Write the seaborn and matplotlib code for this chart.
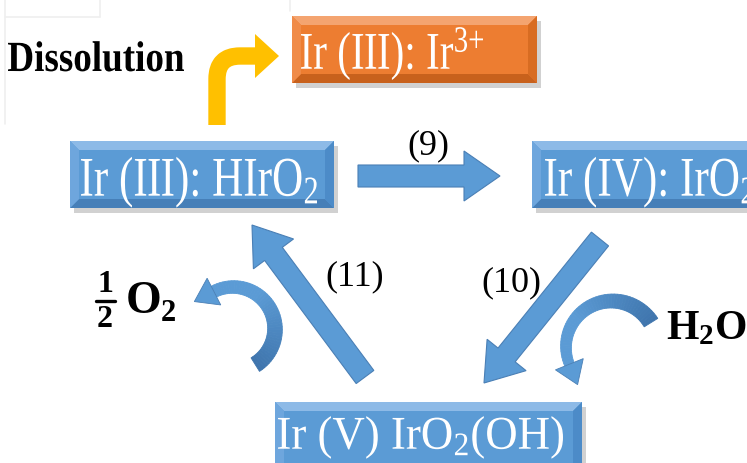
import matplotlib
matplotlib.use("Agg")
import matplotlib.pyplot as plt
import numpy as np
import seaborn as sns
from matplotlib.colors import to_rgb
from matplotlib.font_manager import FontProperties
from matplotlib.patches import FancyArrow, PathPatch, Polygon, Rectangle
from matplotlib.path import Path
from matplotlib.textpath import TextPath
from matplotlib.transforms import Affine2D

sns.set_style("white")
plt.rcParams["font.family"] = ["Liberation Serif", "DejaVu Serif"]
plt.rcParams["mathtext.fontset"] = "custom"
plt.rcParams["mathtext.rm"] = "Liberation Serif"
plt.rcParams["mathtext.it"] = "Liberation Serif:italic"
plt.rcParams["mathtext.bf"] = "Liberation Serif:bold"

W, H = 747, 464

# species boxes (pixel coords: x0, y0, x1, y1)
node_labels = [r"Ir (III): Ir$^{3{+}}$", r"Ir (III): HIrO$_2$",
               r"Ir (IV): IrO$_2$", r"Ir (V) IrO$_2$(OH)"]
node_boxes = [(292, 17, 537, 84), (70, 142, 334, 209),
              (532, 142, 770, 209), (275, 403, 582, 480)]
node_kind = ["orange", "blue", "blue", "blue"]
# text: left edge, right edge (None -> reuse previous squeeze), baseline, em
node_text_left = [301, 81, 545, 278]
node_text_right = [483, 317, None, 563]
node_text_base = [70, 197, 197, 450]
node_text_em = [53, 56, 56, 47]

# reaction step labels
step_labels = ["(9)", "(10)", "(11)"]
step_x = [428, 511, 355]
step_y = [146, 283, 277]

# straight reaction arrows (tail -> tip)
arrow_tail = [(358, 177), (600, 240), (365, 378)]
arrow_tip = [(500, 177), (484, 384), (252, 226)]

# curved release / uptake arrows: centre, radius, start/end angle
curl_center = [(233, 330), (612, 348)]
curl_radius = [42, 46]
curl_angles = [(-58, 117), (32, 202)]
curl_width = [(16, 12), (16, 10)]

BEVEL = {
    "blue": dict(face="#5B9BD5", top="#8DBAE7", bottom="#467FB8",
                 left="#6EA6DD", right="#4C8BC8"),
    "orange": dict(face="#ED7D31", top="#F4A470", bottom="#C8611C",
                   left="#F08B48", right="#D86C22"),
}
ARROW_BLUE = "#5B9BD5"
ARROW_DARK = "#3F75AD"
ARROW_EDGE = "#4A7FB5"
GOLD = "#FFC000"


def bevel_box(ax, box, kind, b=9):
    x0, y0, x1, y1 = box
    c = BEVEL[kind]
    ax.add_patch(Rectangle((x0 + 4, y0 + 5), x1 - x0, y1 - y0,
                           color="#9a9a9a", alpha=0.45, zorder=1, lw=0))
    ax.add_patch(Rectangle((x0, y0), x1 - x0, y1 - y0,
                           color=c["face"], zorder=2, lw=0))
    ax.add_patch(Polygon([(x0, y0), (x1, y0), (x1 - b, y0 + b), (x0 + b, y0 + b)],
                         color=c["top"], zorder=3, lw=0))
    ax.add_patch(Polygon([(x0, y1), (x1, y1), (x1 - b, y1 - b), (x0 + b, y1 - b)],
                         color=c["bottom"], zorder=3, lw=0))
    ax.add_patch(Polygon([(x0, y0), (x0 + b, y0 + b), (x0 + b, y1 - b), (x0, y1)],
                         color=c["left"], zorder=3, lw=0))
    ax.add_patch(Polygon([(x1, y0), (x1 - b, y0 + b), (x1 - b, y1 - b), (x1, y1)],
                         color=c["right"], zorder=3, lw=0))


def squeezed_text(ax, s, left, base, em, right=None, sx=None, color="white",
                  weight="normal", zorder=6):
    """Text drawn as a path so it can be narrowed like the reference."""
    fp = FontProperties(family="Liberation Serif", weight=weight)
    tp = TextPath((0, 0), s, size=1, prop=fp)
    ext = tp.get_extents()
    if sx is None:
        sx = (right - left) / (ext.width * em)
    tr = Affine2D().translate(-ext.x0, 0).scale(em * sx, -em).translate(left, base)
    ax.add_patch(PathPatch(tr.transform_path(tp), fc=color, ec="none",
                           zorder=zorder))
    return sx


def blend(c0, c1, t):
    a, b = np.array(to_rgb(c0)), np.array(to_rgb(c1))
    return tuple(a + (b - a) * t)


def arc_arrow(ax, center, radius, angles, widths, head_w=30, head_len=22, n=50):
    cx, cy = center
    a0, a1 = angles
    th = np.radians(np.linspace(a0, a1, n))
    w = np.linspace(widths[0], widths[1], n)
    ux, uy = np.cos(th), -np.sin(th)
    outer = np.c_[cx + (radius + w / 2) * ux, cy + (radius + w / 2) * uy]
    inner = np.c_[cx + (radius - w / 2) * ux, cy + (radius - w / 2) * uy]
    for i in range(n - 1):
        t = np.clip(i / (n - 2) / 0.65, 0, 1)
        col = blend(ARROW_DARK, ARROW_BLUE, t)
        ax.add_patch(Polygon([outer[i], outer[i + 1], inner[i + 1], inner[i]],
                             fc=col, ec=col, lw=0.6, zorder=4))
    e = th[-1]
    sign = 1 if a1 > a0 else -1
    tx, ty = -np.sin(e) * sign, -np.cos(e) * sign
    bx, by = cx + radius * np.cos(e), cy - radius * np.sin(e)
    rx, ry = np.cos(e), -np.sin(e)
    head = [(bx + rx * head_w / 2, by + ry * head_w / 2),
            (bx + tx * head_len, by + ty * head_len),
            (bx - rx * head_w / 2, by - ry * head_w / 2)]
    ax.add_patch(Polygon(head, fc=ARROW_BLUE, ec=ARROW_EDGE, lw=0.6, zorder=4))


fig = plt.figure(figsize=(W / 100, H / 100), dpi=100)
ax = fig.add_axes([0, 0, 1, 1])
ax.set_xlim(0, W)
ax.set_ylim(H, 0)
ax.axis("off")

# faint watermark lines in the background
for xs, ys in [([5, 5], [0, 125]), ([5, 100], [18, 18]), ([100, 100], [0, 18]),
               ([290, 290], [0, 12])]:
    ax.plot(xs, ys, color="#efefef", lw=1.2, zorder=0)

sx_box = None
for label, box, kind, l, r, base, em in zip(node_labels, node_boxes, node_kind,
                                            node_text_left, node_text_right,
                                            node_text_base, node_text_em):
    bevel_box(ax, box, kind)
    if r is None:
        squeezed_text(ax, label, l, base, em, sx=sx_box)
    else:
        sx_box = squeezed_text(ax, label, l, base, em, right=r)

for (x0, y0), (x1, y1) in zip(arrow_tail, arrow_tip):
    ax.add_patch(FancyArrow(x0, y0, x1 - x0, y1 - y0, width=22,
                            head_width=50, head_length=36,
                            length_includes_head=True, fc=ARROW_BLUE,
                            ec=ARROW_EDGE, lw=0.8, zorder=4))

for c, rad, ang, wd in zip(curl_center, curl_radius, curl_angles, curl_width):
    arc_arrow(ax, c, rad, ang, wd)

# yellow bent dissolution arrow
verts = [(217, 126), (217, 80), (217, 57), (240, 57), (257, 57)]
codes = [Path.MOVETO, Path.LINETO, Path.CURVE3, Path.CURVE3, Path.LINETO]
ax.add_patch(PathPatch(Path(verts, codes), fc="none", ec=GOLD,
                       lw=12.5, capstyle="butt", joinstyle="round", zorder=4))
ax.add_patch(Polygon([(255, 35), (279, 57), (255, 79)], color=GOLD,
                     lw=0, zorder=4))

for s, x, y in zip(step_labels, step_x, step_y):
    ax.text(x, y, s, fontsize=26, ha="center", va="center", color="black",
            zorder=6)

squeezed_text(ax, "Dissolution", 8, 72, 43, right=184, color="black",
              weight="bold")

# 1/2 O2
ax.text(105, 285, "1", fontsize=23, fontweight="bold", ha="center",
        va="center", color="black", zorder=6)
ax.plot([96, 115], [302, 302], color="black", lw=2.4, zorder=6)
ax.text(105, 320, "2", fontsize=23, fontweight="bold", ha="center",
        va="center", color="black", zorder=6)
ax.text(144, 302, "O", fontsize=33, fontweight="bold", ha="center",
        va="center", color="black", zorder=6)
ax.text(168, 314, "2", fontsize=22, fontweight="bold", ha="center",
        va="center", color="black", zorder=6)

ax.text(706, 329, r"$\mathbf{H_2O}$", fontsize=30, ha="center", va="center",
        color="black", zorder=6)

fig.savefig("out.png", dpi=100)
